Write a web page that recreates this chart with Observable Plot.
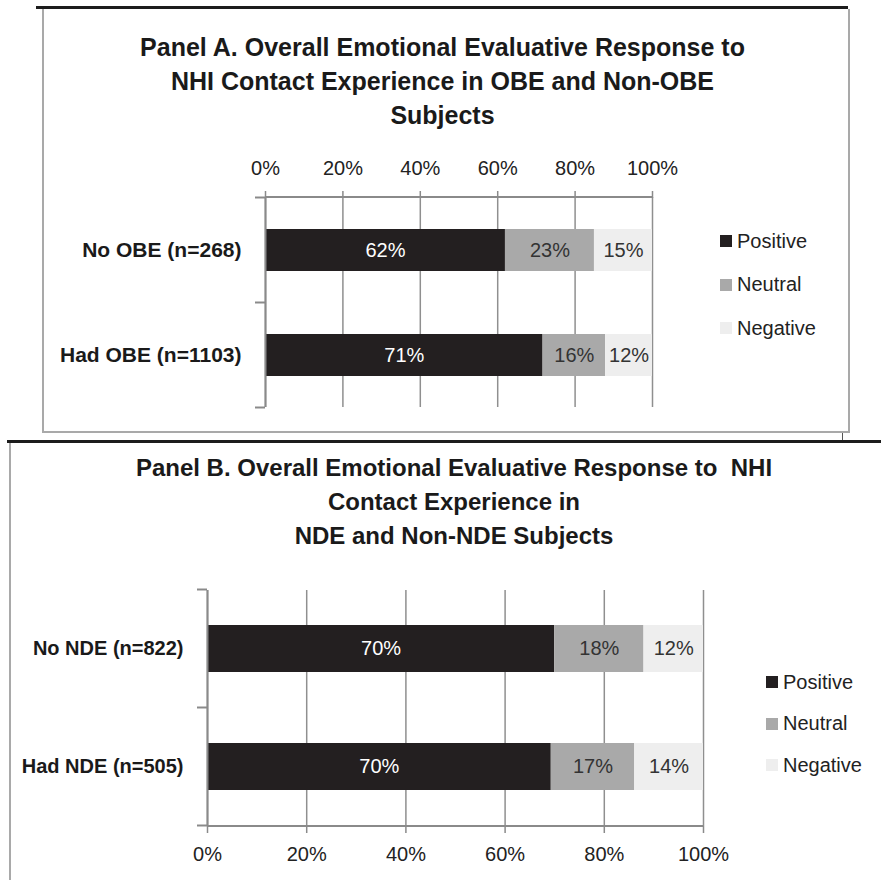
<!DOCTYPE html>
<html><head><meta charset="utf-8">
<script src="https://cdn.jsdelivr.net/npm/d3@7"></script>
<script src="https://cdn.jsdelivr.net/npm/@observablehq/plot@0.6"></script>
<style>
body{margin:0;background:#fff;}
#root{position:relative;width:881px;height:880px;overflow:hidden;background:#fff;font-family:"Liberation Sans",Arial,sans-serif;}
.line{position:absolute;}
.title{position:absolute;text-align:center;font-weight:bold;font-size:25px;line-height:34px;color:#1a1a1a;white-space:pre;}
.leg{position:absolute;font-size:20px;color:#222;display:flex;align-items:center;height:24px;}
.sw{width:12px;height:12px;margin-right:5px;flex:none;}
.plot{position:absolute;left:0;}
</style></head><body><div id="root"></div>
<script>
// ---- data ----
const series = ["Positive", "Neutral", "Negative"];
const seriesColors = ["#231f20", "#a9a9a9", "#eeeeee"];
const labelColors = ["#ffffff", "#333333", "#333333"];
const tickLabels = [0, 20, 40, 60, 80, 100];

const titleA = ["Panel A. Overall Emotional Evaluative Response to", "NHI Contact Experience in OBE and Non-OBE", "Subjects"];
const groupsA = ["No OBE (n=268)", "Had OBE (n=1103)"];
const positiveA = [62, 71];
const neutralA = [23, 16];
const negativeA = [15, 12];

const titleB = ["Panel B. Overall Emotional Evaluative Response to  NHI", "Contact Experience in", "NDE and Non-NDE Subjects"];
const groupsB = ["No NDE (n=822)", "Had NDE (n=505)"];
const positiveB = [70, 70];
const neutralB = [18, 17];
const negativeB = [12, 14];

// ---- styles ----
const GRID = "#8f8f8f";
const AXIS = "#8a8a8a";
const FONT = "'Liberation Sans', Arial, sans-serif";
const root = document.getElementById("root");

function div(cls, css, text) {
  const d = document.createElement("div");
  d.className = cls;
  Object.assign(d.style, css);
  if (text !== undefined) d.textContent = text;
  root.appendChild(d);
  return d;
}

// frames
div("line", {left: "42px", top: "9px", width: "804px", height: "422px", border: "2px solid #a9a9a9", borderTop: "none"});
div("line", {left: "36px", top: "6px", width: "812px", height: "3px", background: "#1c1c1c"});
div("line", {left: "842px", top: "433px", width: "1px", height: "8px", background: "#555"});
div("line", {left: "7px", top: "440px", width: "874px", height: "3px", background: "#1c1c1c"});
div("line", {left: "9px", top: "443px", width: "2px", height: "437px", background: "#a9a9a9"});

// titles
div("title", {left: "40px", width: "805px", top: "30px"}, titleA.join("\n"));
div("title", {left: "9px", width: "890px", top: "451px", fontSize: "24px"}, titleB.join("\n"));

function categoryAxis(side) {
  return (index, scales, values, dimensions) => {
    const y = scales.y;
    const {width, height, marginLeft, marginRight, marginTop, marginBottom} = dimensions;
    const g = d3.create("svg:g").attr("stroke", AXIS).attr("stroke-width", 2).attr("fill", "none");
    const dom = y.domain();
    const step = y.step(), bw = y.bandwidth();
    const edges = dom.map(d => y(d) - (step - bw) / 2);
    edges.push(y(dom[dom.length - 1]) + bw + (step - bw) / 2);
    for (const e of edges) g.append("line").attr("x1", marginLeft - 10).attr("x2", marginLeft).attr("y1", e).attr("y2", e);
    const yl = side === "top" ? marginTop : height - marginBottom;
    g.append("line").attr("x1", marginLeft).attr("x2", width - marginRight).attr("y1", yl).attr("y2", yl);
    return g.node();
  };
}

function panel(groups, pos, neu, neg, o) {
  const data = [];
  groups.forEach((g, i) => [pos[i], neu[i], neg[i]].forEach((v, j) => data.push({group: g, series: series[j], value: v})));
  const st = extra => Plot.stackX({offset: "normalize", x: "value", y: "group", z: "series", ...extra});
  const ticks = tickLabels.map(t => t / 100);
  const plot = Plot.plot({
    width: 881, height: o.height,
    marginLeft: o.left, marginRight: 881 - o.right, marginTop: o.top, marginBottom: o.bottom,
    style: {fontFamily: FONT, fontSize: "20px", background: "transparent", color: "#222", overflow: "visible"},
    x: {domain: [0, 1]},
    y: {domain: groups, paddingInner: 0.6, paddingOuter: 0.3, align: 0.5},
    color: {type: "identity"},
    marks: [
      Plot.gridX(ticks, {stroke: GRID, strokeOpacity: 1, strokeWidth: 1.5}),
      Plot.barX(data, st({fill: d => seriesColors[series.indexOf(d.series)]})),
      Plot.text(data, st({text: d => d.value + "%", fill: d => labelColors[series.indexOf(d.series)], fontSize: 20})),
      Plot.ruleX([0], {stroke: AXIS, strokeWidth: 2}),
      Plot.axisX(ticks, {anchor: o.axis, tickSize: 7, tickPadding: o.pad, stroke: AXIS, strokeWidth: 1.5, tickFormat: d => Math.round(d * 100) + "%", fontSize: 20, fill: "#222", label: null}),
      Plot.axisY({tickSize: 0, tickPadding: 24, fontWeight: "bold", fontSize: o.catFont, fill: "#1a1a1a", label: null}),
      categoryAxis(o.axis)
    ]
  });
  plot.classList.add("plot");
  plot.style.top = o.svgTop + "px";
  root.appendChild(plot);
  // legend
  series.forEach((s, j) => {
    const d = div("leg", {left: o.legX + "px", top: (o.legY + j * o.legStep - 12) + "px"});
    const sw = document.createElement("span"); sw.className = "sw"; sw.style.background = seriesColors[j];
    d.appendChild(sw);
    d.appendChild(document.createTextNode(s));
  });
}

panel(groupsA, positiveA, neutralA, negativeA, {svgTop: 140, height: 280, top: 57, bottom: 13, left: 265, right: 652, axis: "top", pad: 16, legX: 720, legY: 241, legStep: 43.5, catFont: 21});
panel(groupsB, positiveB, neutralB, negativeB, {svgTop: 570, height: 300, top: 20, bottom: 44, left: 207, right: 703, axis: "bottom", pad: 13, legX: 766, legY: 682, legStep: 41.5, catFont: 20});
</script>
</body></html>
